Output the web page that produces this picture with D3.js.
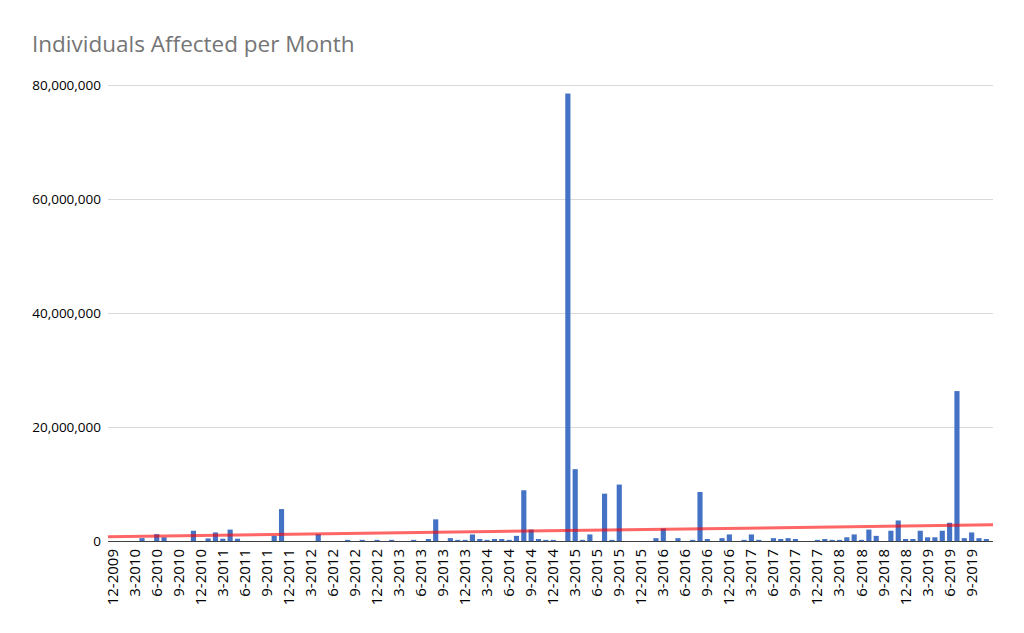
<!DOCTYPE html>
<html>
<head>
<meta charset="utf-8">
<script src="https://cdn.jsdelivr.net/npm/d3@7"></script>
<style>
  html, body { margin: 0; padding: 0; background: #fff; }
  svg { display: block; }
</style>
</head>
<body>
<svg id="chart" width="1024" height="633"></svg>
<script>
const title = "Individuals Affected per Month";

const months = [
  "12-2009",
  "1-2010","2-2010","3-2010","4-2010","5-2010","6-2010","7-2010","8-2010","9-2010","10-2010","11-2010","12-2010",
  "1-2011","2-2011","3-2011","4-2011","5-2011","6-2011","7-2011","8-2011","9-2011","10-2011","11-2011","12-2011",
  "1-2012","2-2012","3-2012","4-2012","5-2012","6-2012","7-2012","8-2012","9-2012","10-2012","11-2012","12-2012",
  "1-2013","2-2013","3-2013","4-2013","5-2013","6-2013","7-2013","8-2013","9-2013","10-2013","11-2013","12-2013",
  "1-2014","2-2014","3-2014","4-2014","5-2014","6-2014","7-2014","8-2014","9-2014","10-2014","11-2014","12-2014",
  "1-2015","2-2015","3-2015","4-2015","5-2015","6-2015","7-2015","8-2015","9-2015","10-2015","11-2015","12-2015",
  "1-2016","2-2016","3-2016","4-2016","5-2016","6-2016","7-2016","8-2016","9-2016","10-2016","11-2016","12-2016",
  "1-2017","2-2017","3-2017","4-2017","5-2017","6-2017","7-2017","8-2017","9-2017","10-2017","11-2017","12-2017",
  "1-2018","2-2018","3-2018","4-2018","5-2018","6-2018","7-2018","8-2018","9-2018","10-2018","11-2018","12-2018",
  "1-2019","2-2019","3-2019","4-2019","5-2019","6-2019","7-2019","8-2019","9-2019","10-2019","11-2019"
];

// Individuals affected (per month)
const affected = [
  0,
  0, 0, 0, 500000, 0, 1200000, 650000, 0, 0, 0, 1800000, 0,
  450000, 1500000, 400000, 2000000, 400000, 0, 0, 0, 0, 900000, 5600000, 0,
  0, 0, 0, 1200000, 0, 0, 0, 200000, 0, 200000, 0, 200000,
  0, 200000, 0, 0, 200000, 0, 350000, 3800000, 0, 500000, 200000, 200000,
  1150000, 350000, 200000, 350000, 350000, 200000, 900000, 8900000, 2000000, 350000, 200000, 200000,
  0, 78500000, 12600000, 200000, 1150000, 0, 8300000, 200000, 9900000, 0, 0, 0,
  0, 500000, 2200000, 0, 500000, 0, 200000, 8600000, 350000, 0, 500000, 1150000,
  0, 200000, 1150000, 200000, 0, 500000, 350000, 500000, 350000, 0, 0, 200000,
  350000, 200000, 200000, 650000, 1150000, 200000, 2000000, 900000, 0, 1800000, 3600000, 350000,
  350000, 1800000, 650000, 650000, 1800000, 3200000, 26300000, 500000, 1500000, 500000, 350000
];

const yTicks = [0, 20000000, 40000000, 60000000, 80000000];

const svg = d3.select("#chart");
const plotLeft = 109, plotRight = 990, plotTop = 85, plotBottom = 541;

const x = d3.scaleBand().domain(months).range([plotLeft, plotRight]).paddingInner(0.3).paddingOuter(0.15);
const y = d3.scaleLinear().domain([0, 80000000]).range([plotBottom, plotTop]);

// title
svg.append("text")
  .attr("x", 32).attr("y", 52)
  .attr("font-family", "Open Sans, sans-serif")
  .attr("font-size", 22.5)
  .attr("fill", "#757575")
  .text(title);

// gridlines
svg.append("g").selectAll("line")
  .data(yTicks.filter(d => d > 0))
  .join("line")
  .attr("x1", 108).attr("x2", 993)
  .attr("y1", d => Math.round(y(d)) + 0.5).attr("y2", d => Math.round(y(d)) + 0.5)
  .attr("stroke", "#d9d9d9").attr("stroke-width", 1);

// y axis labels
const yAxis = d3.axisLeft(y).tickValues(yTicks).tickSize(0).tickPadding(0).tickFormat(d3.format(","));
const gy = svg.append("g").attr("transform", `translate(101,0)`).call(yAxis);
gy.select(".domain").remove();
gy.selectAll("text")
  .attr("font-family", "Open Sans, sans-serif")
  .attr("font-size", 13.5)
  .attr("fill", "#000");

// bars
svg.append("g").selectAll("rect")
  .data(affected.map((v, i) => ({ m: months[i], v })).filter(d => d.v > 0))
  .join("rect")
  .attr("x", d => x(d.m))
  .attr("width", x.bandwidth())
  .attr("y", d => y(d.v))
  .attr("height", d => y(0) - y(d.v))
  .attr("fill", "#4472c4");

// baseline
svg.append("line")
  .attr("x1", 108).attr("x2", 993)
  .attr("y1", plotBottom + 0.5).attr("y2", plotBottom + 0.5)
  .attr("stroke", "#404040").attr("stroke-width", 1);

// x axis labels
const xAxis = d3.axisBottom(x).tickValues(months.filter((d, i) => i % 3 === 0)).tickSize(0).tickPadding(0);
const gx = svg.append("g").attr("transform", `translate(0,${plotBottom})`).call(xAxis);
gx.select(".domain").remove();
gx.selectAll("text")
  .attr("font-family", "Open Sans, sans-serif")
  .attr("font-size", 15)
  .attr("fill", "#000")
  .attr("text-anchor", "end")
  .attr("dy", null)
  .attr("y", 0)
  .attr("transform", "translate(5,8) rotate(-90)");

// linear trendline (least squares over the monthly values)
const n = affected.length;
const xs = d3.range(n);
const mx = d3.mean(xs), my = d3.mean(affected);
const slope = d3.sum(xs, i => (i - mx) * (affected[i] - my)) / d3.sum(xs, i => (i - mx) * (i - mx));
const icpt = my - slope * mx;
const step = x.step();
const c0 = x(months[0]) + x.bandwidth() / 2;
const idxAt = px => (px - c0) / step;
svg.append("line")
  .attr("x1", 108).attr("y1", y(icpt + slope * idxAt(108)))
  .attr("x2", 993).attr("y2", y(icpt + slope * idxAt(993)))
  .attr("stroke", "#ff0000").attr("stroke-opacity", 0.6).attr("stroke-width", 3);
</script>
</body>
</html>
